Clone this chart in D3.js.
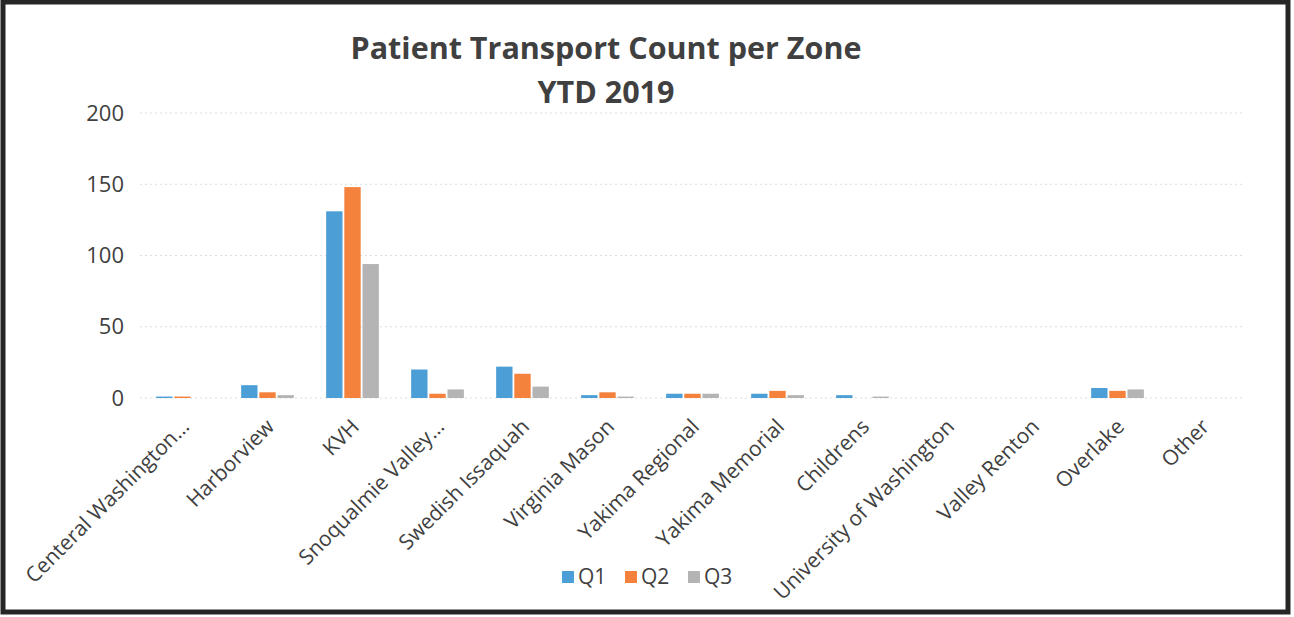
<!DOCTYPE html>
<html>
<head>
<meta charset="utf-8">
<script src="https://cdn.jsdelivr.net/npm/d3@7"></script>
<style>
  body { margin: 0; background: #fff; }
  text { font-family: "Open Sans", Lato, sans-serif; fill: #404040; }
</style>
</head>
<body>
<div id="chart"></div>
<script>
    // data
    var zones = ["Centeral Washington\u2026", "Harborview", "KVH", "Snoqualmie Valley\u2026",
                 "Swedish Issaquah", "Virginia Mason", "Yakima Regional", "Yakima Memorial",
                 "Childrens", "University of Washington", "Valley Renton", "Overlake", "Other"];
    var seriesNames = ["Q1", "Q2", "Q3"];
    var q1 = [1, 9, 131, 20, 22, 2, 3, 3, 2, 0, 0, 7, 0];
    var q2 = [1, 4, 148, 3, 17, 4, 3, 5, 0, 0, 0, 5, 0];
    var q3 = [0, 2, 94, 6, 8, 1, 3, 2, 1, 0, 0, 6, 0];
    var yTicks = [0, 50, 100, 150, 200];
    var colors = ["#4c9fd6", "#f4823d", "#b4b4b4"];

    var width = 1294, height = 617;

    var svg = d3.select("#chart")
                .append("svg")
                .attr("width", width)
                .attr("height", height);

    // dark frame of the scanned picture
    svg.append("rect")
        .attr("x", 3).attr("y", 2)
        .attr("width", 1285).attr("height", 610)
        .attr("fill", "#fff")
        .attr("stroke", "#262626")
        .attr("stroke-width", 5);

    svg.append("text")
        .attr("x", 606).attr("y", 59)
        .attr("text-anchor", "middle")
        .attr("font-size", "30.5px")
        .attr("font-weight", "bold")
        .text("Patient Transport Count per Zone");

    svg.append("text")
        .attr("x", 606).attr("y", 103)
        .attr("text-anchor", "middle")
        .attr("font-size", "30.5px")
        .attr("font-weight", "bold")
        .text("YTD 2019");

    var x = d3.scaleBand()
              .domain(zones)
              .range([140, 1245])
              .paddingInner(0.38)
              .paddingOuter(0.19);

    var xs = d3.scaleBand()
               .domain(seriesNames)
               .range([0, x.bandwidth()])
               .paddingInner(0.1);

    var y = d3.scaleLinear()
              .domain([0, 200])
              .range([398, 113]);

    // gridlines
    svg.selectAll("line.grid")
        .data(yTicks)
        .enter()
        .append("line")
        .attr("class", "grid")
        .attr("x1", 140).attr("x2", 1245)
        .attr("y1", function(d) { return y(d); })
        .attr("y2", function(d) { return y(d); })
        .attr("stroke", "#dcdcdc")
        .attr("stroke-width", 1)
        .attr("stroke-dasharray", "2,3");

    // y labels
    svg.selectAll("text.ylab")
        .data(yTicks)
        .enter()
        .append("text")
        .attr("class", "ylab")
        .attr("x", 124)
        .attr("y", function(d) { return y(d); })
        .attr("dy", "0.35em")
        .attr("text-anchor", "end")
        .attr("font-size", "22px")
        .text(function(d) { return d; });

    var rows = zones.map(function(z, i) {
        return {zone: z, values: [q1[i], q2[i], q3[i]]};
    });

    var groups = svg.selectAll("g.zone")
        .data(rows)
        .enter()
        .append("g")
        .attr("class", "zone")
        .attr("transform", function(d) { return "translate(" + x(d.zone) + ",0)"; });

    groups.selectAll("rect")
        .data(function(d) {
            return d.values.map(function(v, i) { return {name: seriesNames[i], value: v, color: colors[i]}; });
        })
        .enter()
        .append("rect")
        .attr("x", function(d) { return xs(d.name); })
        .attr("y", function(d) { return y(d.value); })
        .attr("width", xs.bandwidth())
        .attr("height", function(d) { return y(0) - y(d.value); })
        .attr("fill", function(d) { return d.color; });

    // rotated category labels
    svg.selectAll("text.xlab")
        .data(zones)
        .enter()
        .append("text")
        .attr("class", "xlab")
        .attr("transform", function(d) {
            var cx = x(d) + x.bandwidth() / 2 + 8;
            return "translate(" + cx + ",428) rotate(-45)";
        })
        .attr("text-anchor", "end")
        .attr("font-size", "21px")
        .text(function(d) { return d; });

    // legend
    var legend = svg.selectAll("g.legend")
        .data(seriesNames)
        .enter()
        .append("g")
        .attr("class", "legend")
        .attr("transform", function(d, i) { return "translate(" + (562 + i * 63) + ",577)"; });

    legend.append("rect")
        .attr("x", 0).attr("y", -6)
        .attr("width", 12).attr("height", 12)
        .attr("fill", function(d, i) { return colors[i]; });

    legend.append("text")
        .attr("x", 16).attr("y", 0)
        .attr("dy", "0.35em")
        .attr("font-size", "21px")
        .text(function(d) { return d; });
</script>
</body>
</html>
